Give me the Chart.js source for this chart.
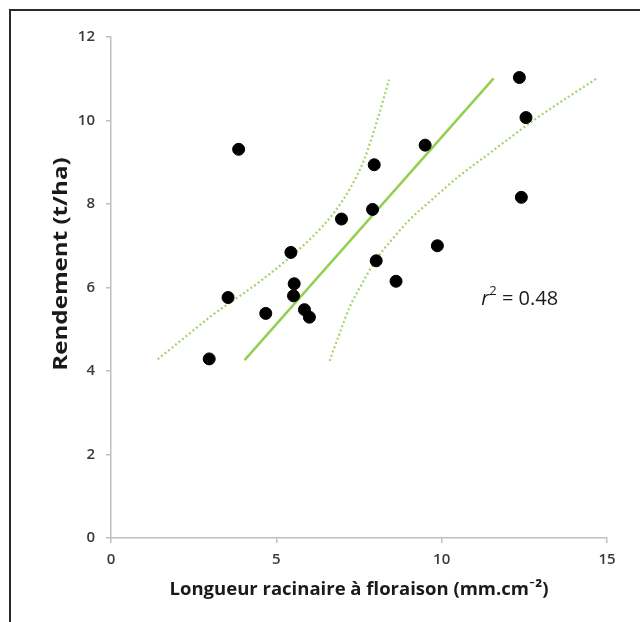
<!DOCTYPE html>
<html>
<head>
<meta charset="utf-8">
<script src="https://cdn.jsdelivr.net/npm/chart.js@4"></script>
<style>
  html, body { margin: 0; padding: 0; background: #fff; }
  #wrap { position: relative; width: 640px; height: 622px; overflow: hidden; }
  #frame {
    position: absolute; left: 9px; top: 9px; width: 660px; height: 640px;
    border-top: 2px solid #2a2a2a; border-left: 2px solid #2a2a2a;
  }
  canvas { position: absolute; left: 0; top: 0; }
</style>
</head>
<body>
<div id="wrap">
  <div id="frame"></div>
  <canvas id="chart" width="640" height="622"></canvas>
</div>
<script>
const X_TITLE = 'Longueur racinaire à floraison (mm.cm⁻²)';
const Y_TITLE = 'Rendement (t/ha)';
const R2_VALUE = '0.48';

const xTicks = [0, 5, 10, 15];
const yTicks = [0, 2, 4, 6, 8, 10, 12];

// observed points
const rootLength = [12.35, 12.55, 3.86, 9.50, 7.96, 12.41, 7.91, 6.97, 5.44, 9.87, 8.02, 8.62, 5.54, 5.52, 3.54, 4.68, 5.85, 6.00, 2.97];
const grainYield = [11.03, 10.07, 9.31, 9.41, 8.94, 8.16, 7.87, 7.64, 6.84, 7.00, 6.64, 6.15, 6.09, 5.80, 5.76, 5.38, 5.47, 5.29, 4.29];

// regression line ends
const fitX = [4.04, 11.57];
const fitY = [4.26, 11.01];

// confidence band
const upperX = [1.41, 2.3, 3.0, 3.9, 4.6, 5.3, 6.1, 6.75, 7.25, 7.65, 8.05, 8.41];
const upperY = [4.28, 4.85, 5.3, 5.8, 6.2, 6.65, 7.22, 7.8, 8.4, 9.05, 10.0, 10.98];
const lowerX = [6.61, 6.95, 7.2, 7.6, 8.0, 8.5, 9.0, 9.7, 10.5, 11.44, 12.79, 14.73];
const lowerY = [4.24, 4.98, 5.5, 6.1, 6.65, 7.15, 7.6, 8.1, 8.65, 9.21, 10.01, 11.03];

const R2_POS = { x: 11.2, y: 5.72 };

const GREEN = '#92d050';
const BAND_GREEN = '#a2d46c';
const AXIS_GRAY = '#bfbfbf';
const FONT = '"Open Sans", Lato, sans-serif';

function toPoints(xs, ys) {
    return xs.map((x, i) => ({ x, y: ys[i] }));
}

const overlayText = {
    id: 'overlayText',
    afterDraw(chart) {
        const { ctx, scales } = chart;

        // y title is drawn by hand: it sits above the axis middle and runs long
        ctx.save();
        ctx.translate(62, 264);
        ctx.rotate(-Math.PI / 2);
        ctx.scale(1.27, 1);
        ctx.font = `bold 19px ${FONT}`;
        ctx.fillStyle = '#1a1a1a';
        ctx.textAlign = 'center';
        ctx.textBaseline = 'middle';
        ctx.fillText(Y_TITLE, 0, 0);
        ctx.restore();

        // r² = ...
        let x = scales.x.getPixelForValue(R2_POS.x);
        const y = scales.y.getPixelForValue(R2_POS.y);
        ctx.save();
        ctx.fillStyle = '#1a1a1a';
        ctx.textBaseline = 'middle';
        ctx.textAlign = 'left';
        ctx.font = `italic 20px ${FONT}`;
        ctx.fillText('r', x, y);
        x += ctx.measureText('r').width;
        ctx.font = `13px ${FONT}`;
        ctx.fillText('2', x, y - 8);
        x += ctx.measureText('2').width;
        ctx.font = `20px ${FONT}`;
        ctx.fillText(` = ${R2_VALUE}`, x, y);
        ctx.restore();
    }
};

const bandStyle = {
    showLine: true,
    borderColor: BAND_GREEN,
    borderWidth: 2.2,
    borderDash: [2, 2.5],
    borderCapStyle: 'butt',
    pointRadius: 0,
    cubicInterpolationMode: 'monotone',
    fill: false,
    order: 2
};

const tickFont = { family: FONT, size: 15, weight: '600' };

const chart = new Chart(document.getElementById('chart'), {
    type: 'scatter',
    data: {
        datasets: [
            {
                label: 'Observations',
                data: toPoints(rootLength, grainYield),
                backgroundColor: '#000',
                borderColor: '#000',
                pointRadius: 6,
                order: 0
            },
            {
                label: 'Régression',
                data: toPoints(fitX, fitY),
                showLine: true,
                borderColor: GREEN,
                borderWidth: 2.5,
                pointRadius: 0,
                order: 1
            },
            { label: 'IC sup', data: toPoints(upperX, upperY), ...bandStyle },
            { label: 'IC inf', data: toPoints(lowerX, lowerY), ...bandStyle }
        ]
    },
    options: {
        responsive: false,
        animation: false,
        devicePixelRatio: 1,
        layout: { padding: { left: 10, top: 37, right: 33, bottom: 10 } },
        plugins: {
            legend: { display: false },
            tooltip: { enabled: false }
        },
        scales: {
            x: {
                type: 'linear',
                min: xTicks[0],
                max: xTicks[xTicks.length - 1],
                afterFit(scale) { scale.height = 74; },
                afterBuildTicks(scale) { scale.ticks = xTicks.map(v => ({ value: v })); },
                border: { color: AXIS_GRAY, width: 1.5 },
                grid: { drawOnChartArea: false, color: AXIS_GRAY, tickLength: 5, lineWidth: 1.5 },
                ticks: { color: '#3a3a3a', font: tickFont, padding: 8 },
                title: {
                    display: true,
                    text: X_TITLE,
                    color: '#1a1a1a',
                    font: { family: FONT, size: 18.5, weight: 'bold' },
                    padding: { top: 0, bottom: 11 }
                }
            },
            y: {
                type: 'linear',
                min: yTicks[0],
                max: yTicks[yTicks.length - 1],
                afterFit(scale) { scale.width = 101; },
                afterBuildTicks(scale) { scale.ticks = yTicks.map(v => ({ value: v })); },
                border: { color: AXIS_GRAY, width: 1.5 },
                grid: { drawOnChartArea: false, color: AXIS_GRAY, tickLength: 5, lineWidth: 1.5 },
                ticks: { color: '#3a3a3a', font: tickFont, padding: 11 }
            }
        }
    },
    plugins: [overlayText]
});
</script>
</body>
</html>
